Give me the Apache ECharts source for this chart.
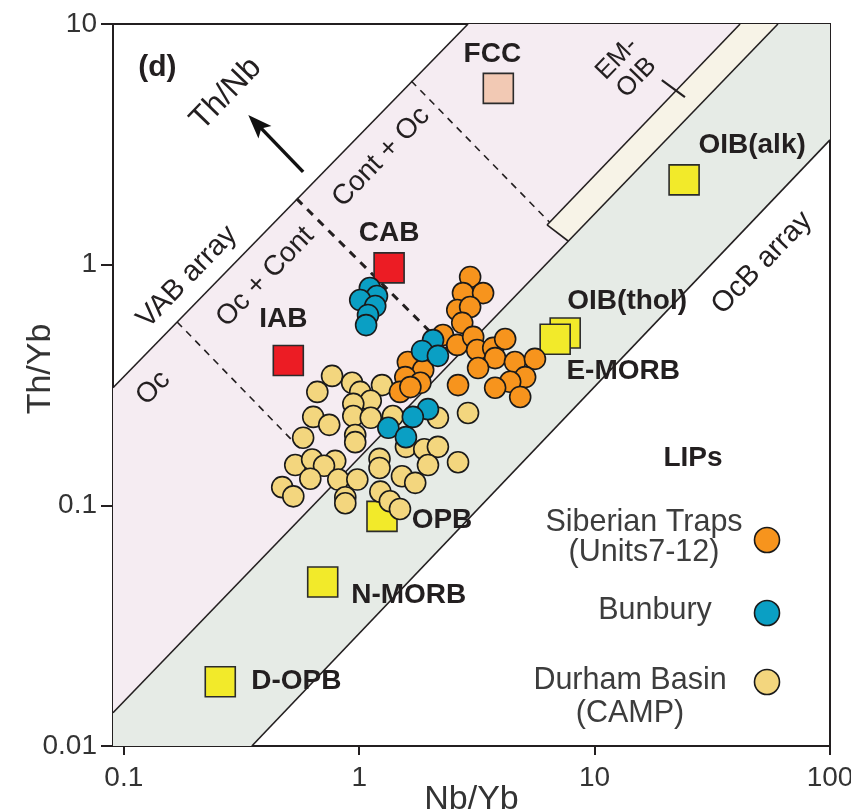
<!DOCTYPE html>
<html>
<head>
<meta charset="utf-8">
<script src="https://cdn.jsdelivr.net/npm/echarts@6/dist/echarts.min.js"></script>
<style>
  html, body { margin: 0; padding: 0; background: #ffffff; }
  #chart { width: 851px; height: 810px; }
</style>
</head>
<body>
<div id="chart"></div>
<script>
// ---- Th/Yb vs Nb/Yb data ----------------------------------------------

// LIP samples: [Nb/Yb, Th/Yb]
const siberianTraps = [
  [2.96, 0.889], [2.76, 0.762], [3.36, 0.762], [2.61, 0.648], [2.96, 0.667],
  [2.74, 0.573], [2.27, 0.510], [2.61, 0.464], [3.05, 0.501], [3.17, 0.442],
  [3.71, 0.451], [4.17, 0.491], [3.78, 0.409], [3.20, 0.372], [4.59, 0.394],
  [5.58, 0.406], [5.07, 0.341], [4.38, 0.326], [3.78, 0.308], [2.63, 0.316],
  [4.83, 0.282], [1.61, 0.394], [1.87, 0.365], [1.57, 0.341], [1.82, 0.323],
  [1.49, 0.296], [1.65, 0.310]
];
const bunbury = [
  [1.11, 0.800], [1.19, 0.741], [1.01, 0.713], [1.17, 0.673], [1.09, 0.618],
  [1.07, 0.561], [2.06, 0.486], [1.85, 0.438], [2.16, 0.418], [1.96, 0.251],
  [1.69, 0.233], [1.33, 0.210], [1.58, 0.192]
];
const durhamBasin = [
  [0.767, 0.345], [0.664, 0.296], [0.933, 0.323], [1.01, 0.296], [1.25, 0.316],
  [1.12, 0.272], [0.944, 0.264], [0.638, 0.233], [0.746, 0.216], [0.944, 0.235],
  [1.12, 0.231], [1.39, 0.235], [0.962, 0.196], [0.962, 0.183], [0.578, 0.191],
  [0.535, 0.147], [0.631, 0.155], [0.791, 0.153], [0.709, 0.146], [1.22, 0.156],
  [1.22, 0.143], [1.58, 0.175], [1.89, 0.171], [2.16, 0.175], [2.63, 0.151],
  [1.96, 0.147], [0.620, 0.129], [0.815, 0.128], [0.982, 0.128], [1.52, 0.132],
  [1.73, 0.124], [0.471, 0.119], [0.525, 0.109], [0.873, 0.108], [0.873, 0.102],
  [1.23, 0.114], [1.35, 0.104], [1.49, 0.0966], [2.90, 0.242], [2.16, 0.231]
];

// Reference compositions
const refNames = ['FCC', 'CAB', 'IAB', 'OIB(alk)', 'OIB(thol)', 'E-MORB', 'OPB', 'N-MORB', 'D-OPB'];
const refNbYb  = [3.9, 1.34, 0.50, 24.0, 7.5, 6.8, 1.25, 0.70, 0.257];
const refThYb  = [5.4, 0.97, 0.40, 2.25, 0.52, 0.49, 0.090, 0.048, 0.0185];

// Axis ticks
const xTicks = [0.1, 1, 10, 100];
const yTicks = [0.01, 0.1, 1, 10];

// Field boundaries: [Nb/Yb, Th/Yb] end points
const vabArray        = [[0.09, 0.308], [2.9, 10]];
const mantleUpper     = [[0.09, 0.01374], [60.1, 10]];
const mantleLower     = [[0.35, 0.01], [100, 3.30]];
const emOibUpper      = [[6.28, 1.462], [41.5, 10]];
const emOibEnd        = [[6.28, 1.462], [7.72, 1.254]];
const emOibTick       = [[19.3, 5.85], [24.2, 4.97]];
const divOcCont       = [[0.1685, 0.578], [0.784, 0.123]];
const divContOc       = [[0.542, 1.88], [2.58, 0.411]];
const divFcc          = [[1.664, 5.8], [6.44, 1.50]];
const thNbArrow       = [[0.578, 2.43], [0.338, 4.19]];

// Shaded fields
const pinkField   = [[0.09, 0.308], [2.9, 10], [60.1, 10], [0.09, 0.01374]];
const mantleField = [[0.09, 0.01374], [60.1, 10], [100, 10], [100, 3.30], [0.35, 0.01], [0.09, 0.01]];
const emOibField  = [[6.28, 1.462], [41.5, 10], [60.1, 10], [7.72, 1.254]];

// ---- styling ------------------------------------------------------------
const FONT = "'Liberation Sans', Arial, Helvetica, sans-serif";
const INK = '#231f20';
const colors = {
  siberian: '#f7941d',
  bunbury: '#0a9fc4',
  durham: '#f3d67e',
  pink: '#f5ecf2',
  mantle: '#e6ebe6',
  emOib: '#f7f3e7'
};
const refStyle = {
  'FCC':       { fill: '#f2c9b4', offset: [-6, -34] },
  'CAB':       { fill: '#ec1c24', offset: [0, -35] },
  'IAB':       { fill: '#ec1c24', offset: [-5, -41] },
  'OIB(alk)':  { fill: '#f2ea2a', offset: [68, -35] },
  'OIB(thol)': { fill: '#f2ea2a', offset: [62, -32] },
  'E-MORB':    { fill: '#f2ea2a', offset: [68, 32] },
  'OPB':       { fill: '#f2ea2a', offset: [60, 4] },
  'N-MORB':    { fill: '#f2ea2a', offset: [86, 13] },
  'D-OPB':     { fill: '#f2ea2a', offset: [76, 0] }
};

// Field annotations anchored in data space (text centre), angle in degrees
const fieldLabels = [
  { text: '(d)',        at: [0.139, 6.56], angle: 0,  size: 30, weight: 'bold' },
  { text: 'Th/Nb',      at: [0.272, 5.12], angle: 46, size: 32 },
  { text: 'VAB array',  at: [0.186, 0.889], angle: 46, size: 29 },
  { text: 'Oc',         at: [0.1335, 0.307], angle: 46, size: 28 },
  { text: 'Oc + Cont',  at: [0.399, 0.889], angle: 46, size: 28 },
  { text: 'Cont + Oc',  at: [1.24, 2.80], angle: 46, size: 28 },
  { text: 'EM-\nOIB',   at: [13.7, 6.56], angle: 46, size: 26 },
  { text: 'OcB array',  at: [51.4, 1.016], angle: 46, size: 29 }
];

// ---- series builders ----------------------------------------------------
function fieldSeries(points, fill) {
  return {
    type: 'custom', silent: true, clip: true, z: 1,
    data: [points[0]],
    renderItem: (params, api) => ({
      type: 'polygon',
      shape: { points: points.map(p => api.coord(p)) },
      style: { fill: fill, stroke: 'none' }
    })
  };
}
function lineSeries(points, width, dash) {
  return {
    type: 'line', silent: true, z: 2, symbol: 'none', animation: false,
    data: points,
    lineStyle: { color: INK, width: width, type: dash || 'solid', cap: 'butt' }
  };
}

const arrowSeries = {
  type: 'custom', silent: true, z: 3,
  data: [thNbArrow[1]],
  renderItem: (params, api) => {
    const a = api.coord(thNbArrow[0]);
    const b = api.coord(thNbArrow[1]);
    const dx = b[0] - a[0], dy = b[1] - a[1];
    const len = Math.hypot(dx, dy), ux = dx / len, uy = dy / len;
    const head = 24, half = 9;
    const bx = b[0] - ux * head, by = b[1] - uy * head;
    return {
      type: 'group',
      children: [
        { type: 'line', shape: { x1: a[0], y1: a[1], x2: bx + ux * 6, y2: by + uy * 6 },
          style: { stroke: '#111', lineWidth: 3.5 } },
        { type: 'polygon',
          shape: { points: [b, [bx - uy * half, by + ux * half],
                            [b[0] - ux * head * 0.78, b[1] - uy * head * 0.78],
                            [bx + uy * half, by - ux * half]] },
          style: { fill: '#111' } }
      ]
    };
  }
};

const labelSeries = {
  type: 'custom', silent: true, z: 4,
  data: fieldLabels.map(l => l.at),
  renderItem: (params, api) => {
    const l = fieldLabels[params.dataIndex];
    const p = api.coord(l.at);
    return {
      type: 'text', x: p[0], y: p[1], rotation: l.angle * Math.PI / 180,
      style: {
        text: l.text, fill: INK, fontFamily: FONT, fontSize: l.size,
        fontWeight: l.weight || 'normal', align: 'center', verticalAlign: 'middle',
        lineHeight: l.size * 1.05
      }
    };
  }
};

const refData = refNames.map((n, i) => ({
  name: n,
  value: [refNbYb[i], refThYb[i]],
  itemStyle: { color: refStyle[n].fill },
  label: { offset: refStyle[n].offset }
}));

function lipSeries(name, data, color) {
  return {
    name: name, type: 'scatter', z: 6, data: data,
    symbol: 'circle', symbolSize: 21, animation: false,
    itemStyle: { color: color, borderColor: '#1a1a1a', borderWidth: 1.6, opacity: 1 }
  };
}

const fmt = v => String(+(+v).toPrecision(3));
const legendText = (text, x, y, lh) => ({
  type: 'text', x: x, y: y, z: 10,
  style: { text: text, fontFamily: FONT, fontSize: 30.5, lineHeight: lh || 32, fill: '#3d3d3d',
           align: 'center', verticalAlign: 'middle' }
});
const legendDot = (color, cy) => ({
  type: 'circle', shape: { cx: 767, cy: cy, r: 12.5 }, z: 10,
  style: { fill: color, stroke: '#1a1a1a', lineWidth: 1.6 }
});

const option = {
  animation: false,
  backgroundColor: '#ffffff',
  grid: { left: 113, right: 21, top: 24, bottom: 64, show: true, containLabel: false,
          outerBoundsMode: 'none',
          borderColor: INK, borderWidth: 2, backgroundColor: 'transparent' },
  xAxis: {
    type: 'log', logBase: 10, min: 0.09, max: 100,
    name: 'Nb/Yb', nameLocation: 'middle', nameGap: 37, nameMoveOverlap: false,
    nameTextStyle: { fontFamily: FONT, fontSize: 34, color: '#333' },
    axisLine: { show: true, lineStyle: { color: INK, width: 2 } },
    axisTick: { show: true, length: 9, customValues: xTicks, lineStyle: { color: INK, width: 2 } },
    axisLabel: { customValues: xTicks, formatter: fmt, fontFamily: FONT, fontSize: 28, color: '#333', margin: 18 },
    splitLine: { show: false }, minorTick: { show: false }
  },
  yAxis: {
    type: 'log', logBase: 10, min: 0.01, max: 10,
    name: 'Th/Yb', nameLocation: 'middle', nameGap: 55, nameRotate: 90, nameMoveOverlap: false,
    nameTextStyle: { fontFamily: FONT, fontSize: 34, color: '#333', padding: [0, 0, 0, 32] },
    axisLine: { show: true, lineStyle: { color: INK, width: 2 } },
    axisTick: { show: true, length: 12, customValues: yTicks, lineStyle: { color: INK, width: 2 } },
    axisLabel: { customValues: yTicks, formatter: fmt, fontFamily: FONT, fontSize: 28, color: '#333', margin: 16 },
    splitLine: { show: false }
  },
  graphic: [
    { type: 'text', x: 693, y: 458, z: 10,
      style: { text: 'LIPs', fontFamily: FONT, fontSize: 28, fontWeight: 'bold', fill: INK,
               align: 'center', verticalAlign: 'middle' } },
    legendText('Siberian Traps\n(Units7-12)', 644, 538, 30),
    legendDot(colors.siberian, 540),
    legendText('Bunbury', 655, 611),
    legendDot(colors.bunbury, 613),
    legendText('Durham Basin\n(CAMP)', 630, 697, 33),
    legendDot(colors.durham, 682)
  ],
  series: [
    fieldSeries(pinkField, colors.pink),
    fieldSeries(mantleField, colors.mantle),
    fieldSeries(emOibField, colors.emOib),
    lineSeries(vabArray, 1.6),
    lineSeries(mantleUpper, 1.6),
    lineSeries(mantleLower, 1.6),
    lineSeries(emOibUpper, 1.6),
    lineSeries(emOibEnd, 1.6),
    lineSeries(emOibTick, 2.2),
    lineSeries(divOcCont, 1.6, [7, 6]),
    lineSeries(divContOc, 3, [8, 7]),
    lineSeries(divFcc, 1.6, [7, 6]),
    arrowSeries,
    labelSeries,
    {
      type: 'scatter', z: 5, data: refData, symbol: 'rect', symbolSize: 30, animation: false,
      itemStyle: { borderColor: '#2b2b2b', borderWidth: 1.6, opacity: 1 },
      label: { show: true, position: 'inside', formatter: '{b}', fontFamily: FONT,
               fontSize: 28, fontWeight: 'bold', color: INK }
    },
    lipSeries('Durham Basin (CAMP)', durhamBasin, colors.durham),
    lipSeries('Siberian Traps (Units7-12)', siberianTraps, colors.siberian),
    lipSeries('Bunbury', bunbury, colors.bunbury)
  ]
};

const chart = echarts.init(document.getElementById('chart'), null, { renderer: 'canvas' });
chart.setOption(option);
</script>
</body>
</html>
